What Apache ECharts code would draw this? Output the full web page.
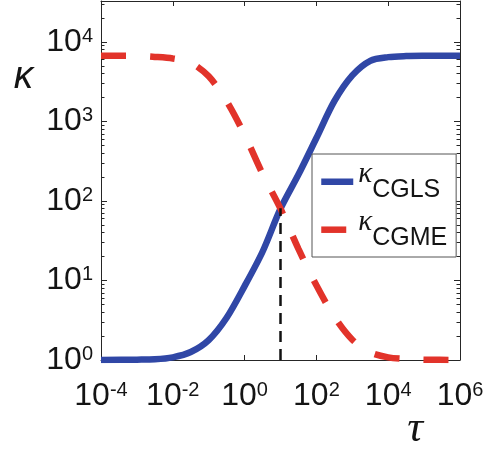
<!DOCTYPE html>
<html><head><meta charset="utf-8">
<script src="https://cdn.jsdelivr.net/npm/echarts@6/dist/echarts.min.js"></script>
<style>html,body{margin:0;padding:0;background:#fff}#c{width:491px;height:450px}</style>
</head><body><div id="c"></div>
<script>
// ---- data ----
const tau       = [1e-4, 1e-3, 3.16e-3, 1e-2, 3.16e-2, 0.1, 0.316, 1, 3.16, 10, 31.6, 100, 316, 1000, 3160, 1e4, 3.16e4, 1e5, 1e6];
const kappaCGLS = [1.00, 1.01, 1.02, 1.08, 1.26, 1.78, 3.4, 8.5, 23, 80, 215, 620, 1800, 3800, 5800, 6450, 6650, 6700, 6720];
const kappaCGME = [6720, 6680, 6500, 6200, 5500, 3700, 1800, 680, 220, 80, 25, 8.7, 3.5, 1.8, 1.25, 1.08, 1.03, 1.01, 1.00];
const crossTau   = [10, 10];
const crossKappa = [1, 81];
const seriesNames = ['CGLS', 'CGME'];
const xTicks = [1e-4, 1e-2, 1, 1e2, 1e4, 1e6];
const yTicks = [1, 10, 100, 1000, 10000];
const xRange = [1e-4, 1e6];
const yRange = [1, 32800];

const yMinor = [];
yTicks.forEach(t => { for (let m = 2; m <= 9; m++) { const v = m * t; if (v <= yRange[1]) yMinor.push(v); } });

const BLUE = '#3047a6', RED = '#e2332a', AX = '#262626', TXT = '#141414';
const FONT = '"Liberation Sans", Arial, Helvetica, sans-serif';
const sup = v => '{b|10}{s|' + Math.round(Math.log10(v)) + '}';
const rich = {
  b: { fontFamily: FONT, fontSize: 32, lineHeight: 32, padding: [6, 0, 0, 0], verticalAlign: 'bottom', color: TXT },
  s: { fontFamily: FONT, fontSize: 20, lineHeight: 20, verticalAlign: 'top', color: TXT }
};

const baseY = { type: 'log', logBase: 10, min: yRange[0], max: yRange[1], splitLine: { show: false },
  axisLine: { show: false }, axisLabel: { show: false }, axisTick: { show: false } };
const baseX = { type: 'log', logBase: 10, min: xRange[0], max: xRange[1], splitLine: { show: false },
  axisLine: { show: false }, axisLabel: { show: false }, axisTick: { show: false } };
const line = { show: true, onZero: false, lineStyle: { color: AX, width: 1 } };
const tick = (vals, len) => ({ show: true, inside: true, length: len, customValues: vals, lineStyle: { color: AX, width: 1 } });

const chart = echarts.init(document.getElementById('c'), null, { renderer: 'canvas' });
chart.setOption({
  animation: false,
  backgroundColor: '#fff',
  grid: { left: 101, right: 31, top: 1, bottom: 90, containLabel: false },
  xAxis: [
    Object.assign({}, baseX, { position: 'bottom', axisLine: line, axisTick: tick(xTicks, 5),
      axisLabel: { show: true, customValues: xTicks, formatter: sup, rich: rich, margin: 20 } }),
    Object.assign({}, baseX, { position: 'top', axisLine: line, axisTick: tick(xTicks, 5) })
  ],
  yAxis: [
    Object.assign({}, baseY, { position: 'left', axisLine: line, axisTick: tick(yTicks, 6),
      axisLabel: { show: true, customValues: yTicks, formatter: sup, rich: rich, margin: 8 } }),
    Object.assign({}, baseY, { position: 'left', axisTick: tick(yMinor, 3.5) }),
    Object.assign({}, baseY, { position: 'right', axisLine: line, axisTick: tick(yTicks, 6) }),
    Object.assign({}, baseY, { position: 'right', axisTick: tick(yMinor, 3.5) })
  ],
  legend: {
    left: 312, top: 154, orient: 'vertical',
    itemWidth: 32, itemHeight: 2, itemGap: 5,
    padding: [6, 9, 6, 6],
    borderColor: '#555', borderWidth: 1, backgroundColor: '#fff',
    lineStyle: { width: 6.5 },
    itemStyle: { opacity: 0 },
    selectedMode: false,
    data: seriesNames,
    formatter: n => '{k|κ}\n{s|  ' + n + '}',
    textStyle: { color: TXT, rich: {
      k: { fontFamily: '"Liberation Serif", serif', fontStyle: 'italic', fontSize: 29, lineHeight: 17.6, color: TXT },
      s: { fontFamily: FONT, fontSize: 25, lineHeight: 14.4, color: TXT }
    } }
  },
  graphic: [
    { type: 'text', x: 23.5, y: 77, z: 10, style: { text: 'κ', font: 'italic 39px "Liberation Sans"', fill: TXT, align: 'center', verticalAlign: 'middle' } },
    { type: 'text', x: 415, y: 429, z: 10, style: { text: 'τ', font: 'italic 44px "Liberation Serif"', fill: TXT, align: 'center', verticalAlign: 'middle' } }
  ],
  series: [
    { name: seriesNames[0], type: 'line', xAxisIndex: 0, yAxisIndex: 0, data: tau.map((t, i) => [t, kappaCGLS[i]]),
      showSymbol: false, symbol: 'none', smooth: 0.3, z: 2,
      lineStyle: { color: BLUE, width: 6.5, cap: 'butt' }, itemStyle: { color: BLUE } },
    { name: seriesNames[1], type: 'line', xAxisIndex: 0, yAxisIndex: 0, data: tau.map((t, i) => [t, kappaCGME[i]]),
      showSymbol: false, symbol: 'none', smooth: 0.3, z: 3,
      lineStyle: { color: RED, width: 6.5, type: [25, 24], cap: 'butt' }, itemStyle: { color: RED } },
    { name: 'cross', type: 'line', xAxisIndex: 0, yAxisIndex: 0, data: crossTau.map((t, i) => [t, crossKappa[i]]),
      showSymbol: false, symbol: 'none', z: 4,
      lineStyle: { color: '#111', width: 2.5, type: [11, 7] }, itemStyle: { color: '#111' } }
  ]
});
</script></body></html>
